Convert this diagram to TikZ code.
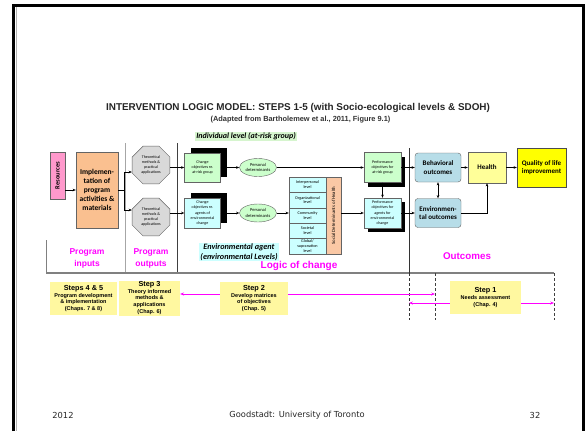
\documentclass[tikz,border=0pt]{standalone}
\usepackage{fontspec}
\setmainfont{Liberation Sans}
\newfontfamily\calfont{Carlito}
\newfontfamily\footfont{DejaVu Sans}
\usetikzlibrary{arrows.meta,shapes.geometric,shadows}
\definecolor{pinkc}{RGB}{255,153,204}
\definecolor{orangec}{RGB}{250,192,144}
\definecolor{peachc}{RGB}{250,200,165}
\definecolor{octgray}{RGB}{217,217,217}
\definecolor{greenc}{RGB}{204,255,204}
\definecolor{lgreen}{RGB}{214,245,206}
\definecolor{cyanc}{RGB}{204,255,255}
\definecolor{bluec}{RGB}{183,221,232}
\definecolor{healthc}{RGB}{255,255,153}
\definecolor{qolc}{RGB}{255,255,0}
\definecolor{stepc}{RGB}{255,248,160}
\definecolor{mag}{RGB}{255,0,255}
\definecolor{edgec}{RGB}{100,100,100}
\tikzset{
  arr/.style={-{Stealth[length=3.2pt,width=2.6pt]}, line width=0.6pt},
  darr/.style={{Stealth[length=3.2pt,width=2.6pt]}-{Stealth[length=3.2pt,width=2.6pt]}, line width=0.6pt},
  marr/.style={-{Stealth[length=3.8pt,width=3pt]}, line width=0.7pt, draw=mag},
  tinytxt/.style={font=\calfont\fontsize{4}{5.2}\selectfont, align=center, inner sep=0pt},
  octbox/.style={regular polygon, regular polygon sides=8, minimum size=41, draw=edgec, fill=octgray, tinytxt},
  chgbox/.style={draw=edgec, minimum width=36, minimum height=28.5, tinytxt,
     drop shadow={shadow xshift=6pt, shadow yshift=5pt, opacity=1, fill=black}},
  perfbox/.style={draw=edgec, minimum width=37, minimum height=30, tinytxt,
     drop shadow={shadow xshift=4pt, shadow yshift=-4pt, opacity=1, fill=black}},
  persell/.style={ellipse, draw=edgec, fill=greenc, minimum width=37, minimum height=18, inner sep=0pt, align=center, font=\calfont\fontsize{4.5}{5.5}\selectfont},
  cellbox/.style={draw=edgec, fill=cyanc, minimum width=37, minimum height=15.4, inner sep=0pt, align=center, font=\calfont\fontsize{4.2}{4.9}\selectfont},
  outbox/.style={draw=edgec, fill=bluec, rounded corners=3pt, minimum width=46, minimum height=29, align=center, inner sep=0pt, font=\calfont\bfseries\fontsize{7}{8.5}\selectfont},
  mlab/.style={text=mag, font=\bfseries\fontsize{8.5}{12}\selectfont, align=center},
  stepbox/.style={fill=stepc, align=center, inner sep=0pt, font=\bfseries\fontsize{5.5}{6.6}\selectfont},
  sepline/.style={draw=gray, line width=0.8pt},
  footer/.style={font=\footfont\fontsize{8.3}{10}\selectfont, text=black!85},
}
\begin{document}
\begin{tikzpicture}[x=1pt,y=-1pt]
\useasboundingbox (0,0) rectangle (585,431);
\fill[white] (0,0) rectangle (585,431);
% frame
\draw[line width=3pt] (13.3,431) -- (13.3,5.4) -- (583.6,5.4) -- (583.6,431);
\draw[gray!60, line width=0.8pt] (15.9,7) -- (15.9,431);

% title
\node[font=\bfseries\fontsize{9.9}{12}\selectfont, text=black!85] (title) at (298,107.5) {INTERVENTION LOGIC MODEL: STEPS 1-5 (with Socio-ecological levels \& SDOH)};
\node[font=\bfseries\fontsize{7.4}{9}\selectfont, text=black!80] (sub) at (300.5,119.5) {(Adapted from Bartholemew et al., 2011, Figure 9.1)};

% separators
\coordinate (sA1) at (125.5,143); \coordinate (sA2) at (125.5,273);
\coordinate (sB1) at (177,143); \coordinate (sB2) at (177,273);
\coordinate (sC1) at (46,240); \coordinate (sC2) at (46,273);
\coordinate (hR) at (554,273);
\coordinate (vT) at (409,148); \coordinate (vB) at (409,273); \coordinate (vE) at (409,320);
\coordinate (d2) at (435,273); \coordinate (d2e) at (435,320);
\coordinate (d3) at (554,273); \coordinate (d3e) at (554,320);
\draw[sepline, gray!70] (sA1) -- (sA2);
\draw[sepline, gray!50!black] (sB1) -- (sB2);
\draw[sepline] (sC1) -- (sC2);
\draw[gray, line width=1.2pt] (sC2) -- (hR);
\draw[black!80, line width=0.6pt] (vT) -- (vB);
\draw[black!80, line width=0.6pt, dash pattern=on 3pt off 2pt] (vB) -- (vE);
\draw[gray!50!black, line width=0.6pt, dash pattern=on 3pt off 2pt] (d2) -- (d2e);
\draw[gray!50!black, line width=0.6pt, dash pattern=on 3pt off 2pt] (d3) -- (d3e);

% level labels
\node[fill=lgreen, inner sep=1pt, font=\calfont\bfseries\itshape\fontsize{8}{9}\selectfont] (indiv) at (246,136.5) {Individual level (at-risk group)};
\node[fill=cyanc, inner sep=1pt, align=center, font=\calfont\bfseries\itshape\fontsize{8.2}{10}\selectfont] (envag) at (239,252) {Environmental agent\\(environmental Levels)};

% inputs
\node[draw=edgec, fill=pinkc, minimum width=15, minimum height=47, inner sep=0pt] (res) at (57.5,175.5) {};
\node[rotate=90, font=\calfont\bfseries\fontsize{6.5}{7}\selectfont] (restxt) at (res) {Resources};
\node[draw=edgec, fill=orangec, minimum width=42, minimum height=76, align=center, inner sep=0pt, font=\calfont\bfseries\fontsize{7.5}{9}\selectfont] (impl) at (97,190) {Implemen-\\tation of\\program\\activities \&\\materials};

% outputs
\node[octbox] (oct1) at (151,165) {Theoretical\\methods \&\\practical\\applications};
\node[octbox] (oct2) at (151,217) {Theoretical\\methods \&\\practical\\applications};

% logic of change
\node[chgbox, fill=greenc] (box1) at (202.5,167.5) {Change\\objectives re.\\at-risk group};
\node[chgbox, fill=cyanc, minimum height=30] (box2) at (202.5,213) {Change\\objectives re.\\agents of\\environmental\\change};
\node[persell] (ell1) at (258,167.5) {Personal\\determinants};
\node[persell] (ell2) at (258,213) {Personal\\determinants};
\node[cellbox] (c1) at (307.5,184.7) {Interpersonal\\level};
\node[cellbox] (c2) at (307.5,200.1) {Organizational\\level};
\node[cellbox] (c3) at (307.5,215.5) {Community\\level};
\node[cellbox] (c4) at (307.5,230.9) {Societal\\level};
\node[cellbox] (c5) at (307.5,246.3) {Global/\\supranation\\level};
\node[draw=edgec, fill=peachc, minimum width=15, minimum height=77, inner sep=0pt] (bar) at (333.5,215.5) {};
\node[rotate=90, font=\calfont\fontsize{4.8}{5}\selectfont] (bartxt) at (bar) {Social Determinants of Health};
\node[perfbox, fill=greenc] (perf1) at (382.5,167.5) {Performance\\objectives for\\at-risk group};
\node[perfbox, fill=cyanc] (perf2) at (382.5,213) {Performance\\objectives for\\agents for\\environmental\\change};

% outcomes
\node[outbox] (beh) at (438,167.5) {Behavioral\\outcomes};
\node[outbox] (env) at (438,213) {Environmen-\\tal outcomes};
\node[draw=edgec, fill=healthc, minimum width=38, minimum height=31, inner sep=0pt, font=\calfont\bfseries\fontsize{7}{8.5}\selectfont] (health) at (487,167.5) {Health};
\node[draw=black!70, fill=qolc, minimum width=49, minimum height=39, align=center, inner sep=0pt, font=\calfont\bfseries\fontsize{7}{8.5}\selectfont] (qol) at (541.5,167.5) {Quality of life\\improvement};

% connectors
\coordinate (brM) at (124,190); \coordinate (brT) at (124,172); \coordinate (brB) at (124,210);
\draw[arr] (res.east |- impl) -- (impl.west);
\draw[line width=0.6pt] (impl.east |- brM) -- (brM);
\draw[line width=0.6pt] (brT) -- (brB);
\draw[arr] (brT) -- (brT -| oct1.west);
\draw[arr] (brB) -- (brB -| oct2.west);
\draw[arr] (oct1.east |- box1) -- (box1.west);
\draw[arr] (oct2.east |- box2) -- (box2.west);
\draw[arr] (box1) -- (ell1);
\draw[arr] (box2) -- (ell2);
\draw[arr] (ell1) -- (perf1);
\draw[arr] (ell2) -- (ell2 -| c3.west);
\draw[arr] (bar.east |- perf2) -- (perf2.west);
\draw[darr] (perf1.south) -- (perf2.north);
\draw[arr] (perf1) -- (beh);
\draw[arr] (perf2) -- (env);
\draw[darr] (beh) -- (env);
\draw[arr] (beh) -- (health);
\draw[arr] (health) -- (qol);
\draw[arr] (env.east) -| (health.south);

% magenta labels
\node[mlab] (pin) at (87,258) {Program\\inputs};
\node[mlab] (pout) at (151,258) {Program\\outputs};
\node[mlab, font=\bfseries\fontsize{10}{12}\selectfont] (loc) at (299,266) {Logic of change};
\node[mlab, font=\bfseries\fontsize{9.8}{12}\selectfont] (outl) at (467,256) {Outcomes};

% steps
\node[stepbox, minimum width=67, minimum height=33] (s45) at (83.5,298.5) {{\fontsize{7.3}{8.5}\selectfont Steps 4 \& 5}\\Program development\\\& implementation\\(Chaps. 7 \& 8)};
\node[stepbox, minimum width=61, minimum height=35] (s3) at (149.5,298) {{\fontsize{7.3}{8.5}\selectfont Step 3}\\Theory informed\\methods \&\\applications\\(Chap. 6)};
\node[stepbox, minimum width=68, minimum height=33] (s2) at (254,298.5) {{\fontsize{7.3}{8.5}\selectfont Step 2}\\Develop matrices\\of objectives\\(Chap. 5)};
\node[stepbox, minimum width=71, minimum height=33] (s1) at (485.5,297.5) {{\fontsize{7.3}{8.5}\selectfont Step 1}\\Needs assessment\\(Chap. 4)};

\coordinate (m1) at ([yshift=4.5pt]s2.west);
\coordinate (m2) at ([yshift=4.5pt]s2.east);
\coordinate (m3) at ([yshift=-5.5pt]s1.west);
\coordinate (m4) at ([yshift=-5.5pt]s1.east);
\draw[marr] (m1) -- (m1 -| s3.east);
\draw[marr] (m2) -- (m2 -| d2);
\draw[marr] (m3) -- (m3 -| vB);
\draw[marr] (m4) -- (m4 -| d3);

% footer
\node[footer] (yr) at (63,415) {2012};
\node[footer] (org) at (297,415) {Goodstadt: University of Toronto};
\node[footer] (pg) at (535,415) {32};
\end{tikzpicture}
\end{document}
